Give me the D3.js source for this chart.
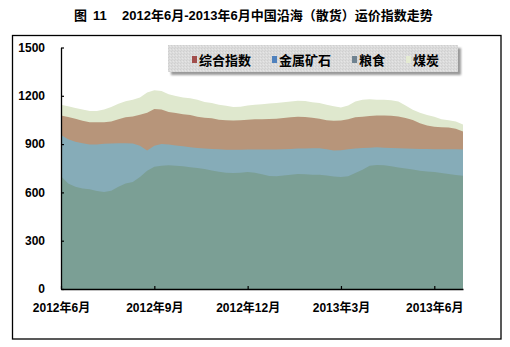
<!DOCTYPE html>
<html>
<head>
<meta charset="utf-8">
<script src="https://cdn.jsdelivr.net/npm/d3@7"></script>
<style>
  html, body { margin: 0; padding: 0; background: #fff; }
  svg { display: block; }
  text { font-family: "Liberation Sans", "Noto Sans CJK SC", sans-serif; font-weight: bold; fill: #000; }
</style>
</head>
<body>
<svg id="chart" width="510" height="347"></svg>
<script>
// Weekly freight index readings, June 2012 – early July 2013
const coal = [1145,1135,1125,1115,1105,1105,1115,1130,1150,1166,1175,1190,1220,1235,1230,1210,1198,1190,1185,1175,
  1162,1155,1145,1138,1130,1132,1140,1145,1148,1152,1156,1160,1165,1170,1168,1160,1155,1145,1135,1128,
  1140,1165,1175,1178,1176,1176,1172,1165,1140,1114,1095,1080,1070,1055,1048,1040,1022];
const composite = [1078,1068,1058,1045,1036,1035,1035,1040,1055,1066,1072,1082,1095,1118,1115,1100,1093,1085,1080,1070,
  1064,1060,1052,1048,1046,1048,1052,1055,1055,1056,1058,1062,1066,1070,1069,1064,1058,1048,1045,1046,
  1055,1066,1070,1075,1077,1078,1076,1072,1062,1050,1030,1015,1008,1004,1003,995,979];
const metalOre = [956,930,915,905,898,898,902,903,905,906,903,890,860,890,900,898,892,886,880,876,
  872,870,868,865,865,865,866,866,866,866,866,868,870,872,872,874,875,868,860,862,
  868,872,876,878,880,878,876,874,872,871,870,869,868,868,868,868,866];
const grain = [700,655,635,625,620,608,602,610,635,655,665,695,735,760,766,768,766,762,756,752,
  745,736,728,722,720,722,726,722,712,702,700,705,710,714,712,710,710,705,698,695,
  700,720,740,765,770,768,762,755,748,742,735,730,726,720,715,708,703];

const seriesNames = ["综合指数", "金属矿石", "粮食", "煤炭"];
const legendColors = ["#A24E4C", "#4F81BD", "#6F8290", "#E4EBD2"];
const tickIndex = [0, 13, 26, 39, 52];
const tickLabels = ["2012年6月", "2012年9月", "2012年12月", "2013年3月", "2013年6月"];
const yTicks = [0, 300, 600, 900, 1200, 1500];
const titleParts = ["图", "11", "2012年6月-2013年6月中国沿海（散货）运价指数走势"];

const svg = d3.select("#chart");

// title
const title = svg.append("text").attr("y", 15).attr("dominant-baseline", "central").style("font-size", "13px");
[74, 93, 122].forEach((x, i) => title.append("tspan").attr("x", x).text(titleParts[i]));

// outer frame
svg.append("rect").attr("x", 12.5).attr("y", 35.5).attr("width", 488.5).attr("height", 303.5)
  .attr("fill", "#fff").attr("stroke", "#000").attr("stroke-width", 1.3);

const x = d3.scaleLinear().domain([0, coal.length - 1]).range([61, 463]);
const y = d3.scaleLinear().domain([0, 1500]).range([289, 47.5]);

const area = d3.area().x((d, i) => x(i)).y0(y(0)).y1(d => y(d));

// overlapping areas, highest series at the back
const layers = [
  { values: coal, fill: "#DFE8CE" },
  { values: composite, fill: "#B7957A" },
  { values: metalOre, fill: "#86ACB8" },
  { values: grain, fill: "#7B9F95" }
];
svg.append("g").selectAll("path").data(layers).join("path")
  .attr("d", d => area(d.values)).attr("fill", d => d.fill);

// axes
const yAxis = d3.axisLeft(y).tickValues(yTicks).tickSizeInner(-3).tickSizeOuter(0).tickPadding(16).tickFormat(d3.format("d"));
const gy = svg.append("g").attr("transform", "translate(61,0)").call(yAxis);
gy.selectAll("text").style("font-size", "12px").attr("font-family", null);

const xAxis = d3.axisBottom(x).tickValues(tickIndex).tickSizeInner(-3).tickSizeOuter(0).tickPadding(14)
  .tickFormat((d, i) => tickLabels[i]);
const gx = svg.append("g").attr("transform", "translate(0,289)").call(xAxis);
gx.selectAll("text").style("font-size", "12px").attr("font-family", null);

[gx, gy].forEach(g => {
  g.select(".domain").attr("stroke", "#000").attr("stroke-width", 1.3);
  g.selectAll(".tick line").attr("stroke", "#000").attr("stroke-width", 1.2);
});

// legend box with soft shadow
const defs = svg.append("defs");
defs.append("filter").attr("id", "soft").append("feGaussianBlur").attr("stdDeviation", 1.2);
const pat = defs.append("pattern").attr("id", "grain-tex").attr("width", 3).attr("height", 3)
  .attr("patternUnits", "userSpaceOnUse");
pat.append("rect").attr("width", 3).attr("height", 3).attr("fill", "#DBDBDB");
pat.append("rect").attr("x", 0).attr("y", 0).attr("width", 1).attr("height", 1).attr("fill", "#CFCFCF");
pat.append("rect").attr("x", 2).attr("y", 1).attr("width", 1).attr("height", 1).attr("fill", "#E6E6E6");
pat.append("rect").attr("x", 1).attr("y", 2).attr("width", 1).attr("height", 1).attr("fill", "#D2D2D2");

const legend = svg.append("g");
legend.append("rect").attr("x", 171).attr("y", 48).attr("width", 290).attr("height", 27)
  .attr("fill", "#9A9A9A").attr("filter", "url(#soft)");
legend.append("rect").attr("x", 168).attr("y", 45).attr("width", 290).attr("height", 27)
  .attr("fill", "url(#grain-tex)");

let lx = 192;
seriesNames.forEach((name, i) => {
  legend.append("rect").attr("x", lx).attr("y", 56).attr("width", 5).attr("height", 7).attr("fill", legendColors[i]);
  const t = legend.append("text").attr("x", lx + 7).attr("y", 60).attr("dominant-baseline", "central")
    .style("font-size", "13px").text(name);
  lx += 7 + t.node().getComputedTextLength() + 21;
});
</script>
</body>
</html>
